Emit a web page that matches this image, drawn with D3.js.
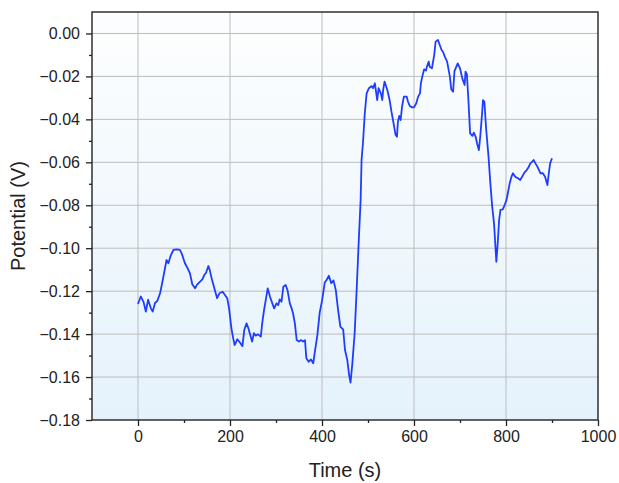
<!DOCTYPE html>
<html><head><meta charset="utf-8">
<script src="https://cdn.jsdelivr.net/npm/d3@7"></script>
<style>html,body{margin:0;padding:0;background:#fff;}svg{display:block;font-family:"Liberation Sans",Arial,sans-serif;}</style>
</head><body>
<svg id="chart" width="619" height="483"></svg>
<script>
const timeS = [0,6,12,17,22,28,32,37,42,48,55,62,66,71,77,84,91,95,102,109,113,118,124,128,135,140,144,148,153,156,161,167,172,177,184,189,194,198,203,207,210,216,222,227,231,236,240,243,248,252,256,261,267,270,274,282,287,292,296,301,305,308,312,316,321,325,330,334,337,341,345,350,354,359,363,366,371,376,381,384,390,395,400,406,410,415,420,425,430,435,440,446,450,455,459,462,466,471,475,480,484,486,489,493,497,502,508,511,515,520,523,528,531,533,536,542,547,551,555,560,563,565,568,571,574,578,584,587,591,596,600,605,609,613,615,618,622,626,628,632,634,639,644,647,652,656,660,663,667,672,678,681,685,688,695,700,705,710,712,715,718,722,727,730,734,737,741,744,748,750,753,757,762,766,770,774,777,779,782,785,788,793,797,801,804,808,812,815,819,822,826,831,835,840,845,849,853,857,860,864,869,875,880,885,890,893,896,900];
const potentialV = [-0.126,-0.1225,-0.125,-0.1295,-0.124,-0.128,-0.1295,-0.1255,-0.1245,-0.121,-0.1135,-0.1055,-0.107,-0.1035,-0.1008,-0.1005,-0.1008,-0.1024,-0.107,-0.1098,-0.1117,-0.1168,-0.1187,-0.1171,-0.1156,-0.1145,-0.1125,-0.1114,-0.1083,-0.1102,-0.1148,-0.1195,-0.1233,-0.121,-0.1203,-0.1218,-0.1233,-0.128,-0.1373,-0.142,-0.1451,-0.1424,-0.144,-0.1456,-0.1381,-0.135,-0.1373,-0.1396,-0.1435,-0.1396,-0.1407,-0.1401,-0.1412,-0.135,-0.1288,-0.1187,-0.1226,-0.1257,-0.128,-0.1257,-0.1265,-0.1238,-0.1249,-0.1179,-0.1171,-0.1195,-0.1257,-0.128,-0.1303,-0.135,-0.1428,-0.1435,-0.1428,-0.1435,-0.1428,-0.1513,-0.1529,-0.1518,-0.1536,-0.149,-0.1404,-0.13,-0.1245,-0.116,-0.1148,-0.1128,-0.1163,-0.115,-0.1195,-0.1288,-0.1366,-0.1378,-0.1474,-0.1521,-0.1591,-0.1626,-0.1536,-0.1396,-0.121,-0.0962,-0.0775,-0.0589,-0.0511,-0.0372,-0.0279,-0.0255,-0.0245,-0.0255,-0.0232,-0.031,-0.0255,-0.0279,-0.031,-0.0263,-0.0224,-0.0263,-0.031,-0.0364,-0.0411,-0.0473,-0.0481,-0.0411,-0.0384,-0.0403,-0.0341,-0.0294,-0.0294,-0.0318,-0.0338,-0.0344,-0.0344,-0.0325,-0.0294,-0.0279,-0.0232,-0.0201,-0.0167,-0.0173,-0.0155,-0.0131,-0.0155,-0.0162,-0.010,-0.0038,-0.003,-0.0054,-0.0077,-0.0085,-0.0108,-0.0131,-0.0201,-0.026,-0.0271,-0.0175,-0.0139,-0.0162,-0.0209,-0.024,-0.0178,-0.019,-0.030,-0.0465,-0.0477,-0.0462,-0.0481,-0.0511,-0.0543,-0.0481,-0.0372,-0.031,-0.0318,-0.0449,-0.0574,-0.0698,-0.0807,-0.0884,-0.0993,-0.1063,-0.0977,-0.0869,-0.0822,-0.0819,-0.0799,-0.0776,-0.0744,-0.0698,-0.0667,-0.0651,-0.0664,-0.067,-0.0674,-0.0682,-0.0667,-0.0648,-0.0636,-0.0623,-0.0605,-0.0597,-0.0589,-0.0605,-0.0623,-0.0651,-0.0651,-0.0667,-0.0706,-0.0651,-0.0605,-0.0581];
const xTicks = [0,200,400,600,800,1000];
const xMinorTicks = [100,300,500,700,900];
const yTicks = [0.00,-0.02,-0.04,-0.06,-0.08,-0.10,-0.12,-0.14,-0.16,-0.18];
const yMinorTicks = [-0.01,-0.03,-0.05,-0.07,-0.09,-0.11,-0.13,-0.15,-0.17];
const xLabel = "Time (s)";
const yLabel = "Potential (V)";

const svg = d3.select("#chart");
const L = 92, R = 598, T = 12, B = 420;
const x = d3.scaleLinear().domain([-100, 1000]).range([L, R]);
const y = d3.scaleLinear().domain([-0.18, 0.01]).range([B, T]);

const defs = svg.append("defs");
const grad = defs.append("linearGradient").attr("id","bg").attr("x1",0).attr("y1",0).attr("x2",0).attr("y2",1);
grad.append("stop").attr("offset","0%").attr("stop-color","#fdfefe");
grad.append("stop").attr("offset","100%").attr("stop-color","#e5f2fc");
svg.append("rect").attr("x",L).attr("y",T).attr("width",R-L).attr("height",B-T).attr("fill","url(#bg)");

// grid
svg.append("g").selectAll("line").data(xTicks.filter(d=>d<1000)).join("line")
  .attr("x1",d=>x(d)).attr("x2",d=>x(d)).attr("y1",T).attr("y2",B)
  .attr("stroke","#bdbdbd").attr("stroke-width",1);
svg.append("g").selectAll("line").data(yTicks.filter(d=>d>-0.18)).join("line")
  .attr("x1",L).attr("x2",R).attr("y1",d=>y(d)).attr("y2",d=>y(d))
  .attr("stroke","#bdbdbd").attr("stroke-width",1);

// axes
const fmt = d3.format(".2f");
const xAxis = d3.axisBottom(x).tickValues(xTicks).tickSize(6).tickPadding(5).tickFormat(d3.format("d"));
const xAxisMinor = d3.axisBottom(x).tickValues(xMinorTicks).tickSize(3).tickFormat("");
const yAxis = d3.axisLeft(y).tickValues(yTicks).tickSize(6).tickPadding(6).tickFormat(d => fmt(d).replace("-", "\u2212"));
const yAxisMinor = d3.axisLeft(y).tickValues(yMinorTicks).tickSize(3).tickFormat("");

function style(g){
  g.select(".domain").remove();
  g.selectAll(".tick line").attr("stroke","#222").attr("stroke-width",1.3);
  g.selectAll(".tick text").attr("fill","#222").style("font-size","16px").style("font-family",'"Liberation Sans",Arial,sans-serif');
}
svg.append("g").attr("transform",`translate(0,${B})`).call(xAxis).call(style);
svg.append("g").attr("transform",`translate(0,${B})`).call(xAxisMinor).call(style);
svg.append("g").attr("transform",`translate(${L},0)`).call(yAxis).call(style);
svg.append("g").attr("transform",`translate(${L},0)`).call(yAxisMinor).call(style);

// line
const pts = timeS.map((t,i)=>[t, potentialV[i]]);
svg.append("path").datum(pts)
  .attr("d", d3.line().x(d=>x(d[0])).y(d=>y(d[1])))
  .attr("fill","none").attr("stroke","#1f3dff").attr("stroke-width",1.8).attr("stroke-linejoin","round");

// frame
svg.append("rect").attr("x",L).attr("y",T).attr("width",R-L).attr("height",B-T)
  .attr("fill","none").attr("stroke","#222").attr("stroke-width",1.4);

// titles
svg.append("text").attr("x",345).attr("y",477).attr("text-anchor","middle")
  .style("font-size","20px").attr("fill","#222").text(xLabel);
svg.append("text").attr("transform",`translate(25,${(T+B)/2}) rotate(-90)`).attr("text-anchor","middle")
  .style("font-size","20px").attr("fill","#222").text(yLabel);
</script>
</body></html>
